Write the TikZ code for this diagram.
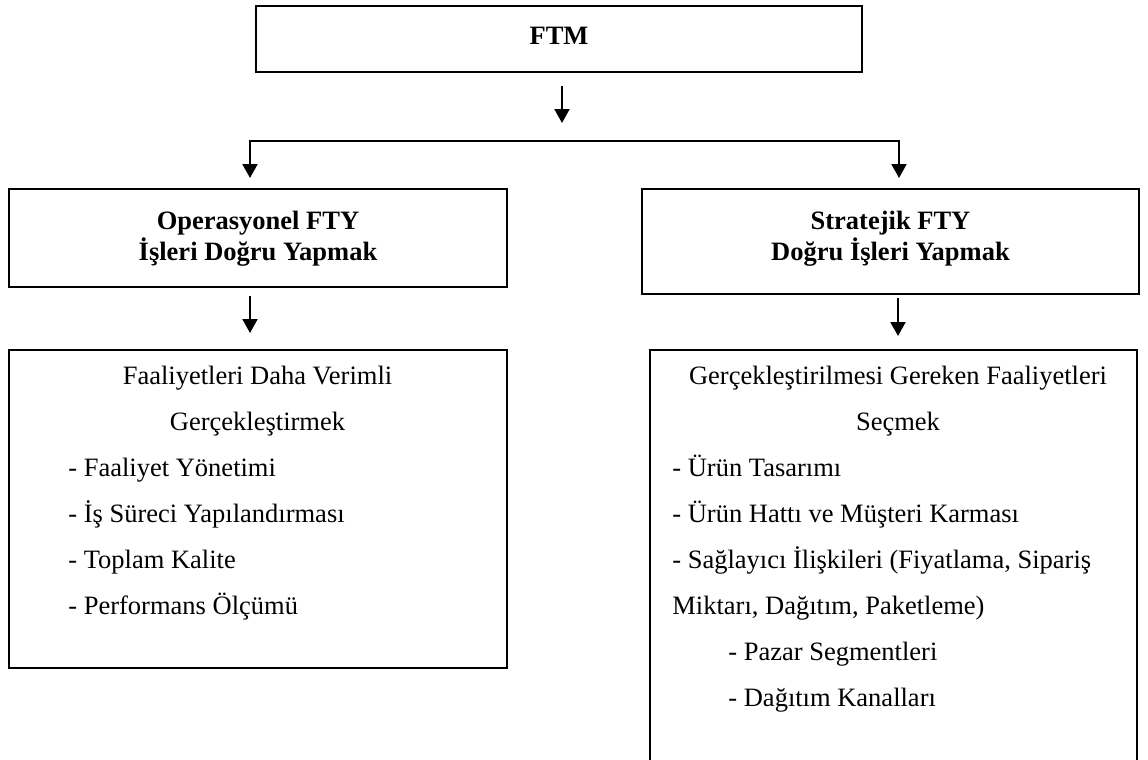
\documentclass[tikz,border=0pt]{standalone}
\usepackage{fontspec}
\setmainfont{Liberation Serif}
\usetikzlibrary{arrows.meta}
\begin{document}
\begin{tikzpicture}[x=0.5pt,y=-0.5pt,
  box/.style={draw, line width=1pt, inner sep=0pt, rectangle},
  tip/.style={Triangle[length=7pt,width=7.5pt]},
  conn/.style={line width=1pt, -{Triangle[length=7pt,width=7.5pt]}},
  txt/.style={anchor=base, inner sep=0pt, font=\fontsize{13.25pt}{15pt}\selectfont},
  txtl/.style={txt, anchor=base west},
  head/.style={anchor=base, inner sep=0pt, font=\fontsize{13.25pt}{15pt}\selectfont\bfseries}]
\useasboundingbox (0,0) rectangle (1148,760);

% boxes
\node[box, minimum width=303pt, minimum height=33pt] (ftm) at (559,39) {};
\node[box, minimum width=249pt, minimum height=49pt] (op) at (258,238) {};
\node[box, minimum width=248.5pt, minimum height=52.5pt] (st) at (890.5,241.5) {};
\node[box, minimum width=249pt, minimum height=159pt] (opd) at (258,509) {};
\node[inner sep=0pt, minimum width=243.5pt, minimum height=206pt] (std) at (893.5,556) {};
\draw[line width=1pt] (std.south west) |- (std.north east) -- (std.south east);

% headings
\node[head] (ftmt) at (559,44) {FTM};
\node[head] (op1) at (258,229) {Operasyonel FTY};
\node[head] (op2) at (258,260) {İşleri Doğru Yapmak};
\node[head] (st1) at (890.5,229) {Stratejik FTY};
\node[head] (st2) at (890.5,260) {Doğru İşleri Yapmak};

% operational details
\node[txt] (l1) at (257.5,384) {Faaliyetleri Daha Verimli};
\node[txt] (l2) at (257.5,430) {Gerçekleştirmek};
\node[txtl] (l3) at (68,476) {- Faaliyet Yönetimi};
\node[txtl] (l4) at (68,522) {- İş Süreci Yapılandırması};
\node[txtl] (l5) at (68,568) {- Toplam Kalite};
\node[txtl] (l6) at (68,614) {- Performans Ölçümü};

% strategic details
\node[txt] (r1) at (898,384) {Gerçekleştirilmesi Gereken Faaliyetleri};
\node[txt] (r2) at (898,430) {Seçmek};
\node[txtl] (r3) at (672,476) {- Ürün Tasarımı};
\node[txtl] (r4) at (672,522) {- Ürün Hattı ve Müşteri Karması};
\node[txtl] (r5) at (672,568) {- Sağlayıcı İlişkileri (Fiyatlama, Sipariş};
\node[txtl] (r6) at (672,614) {Miktarı, Dağıtım, Paketleme)};
\node[txtl] (r7) at (728,660) {- Pazar Segmentleri};
\node[txtl] (r8) at (728,706) {- Dağıtım Kanalları};

% connector ends
\coordinate (a0s) at (562,86);
\coordinate (a0e) at (562,123);
\coordinate (bl) at (250,141);
\coordinate (br) at (899,141);
\coordinate (tl) at (250,178);
\coordinate (tr) at (899,178);
\coordinate (a1s) at (250,296);
\coordinate (a1e) at (250,333);
\coordinate (a2s) at (898,298);
\coordinate (a2e) at (898,336);

% connectors
\draw[conn] (a0s) -- (a0e);
\draw[line width=1pt, {Triangle[length=7pt,width=7.5pt]}-{Triangle[length=7pt,width=7.5pt]}] (tl) -- (bl) -- (br) -- (tr);
\draw[conn] (a1s) -- (a1e);
\draw[conn] (a2s) -- (a2e);
\end{tikzpicture}
\end{document}
